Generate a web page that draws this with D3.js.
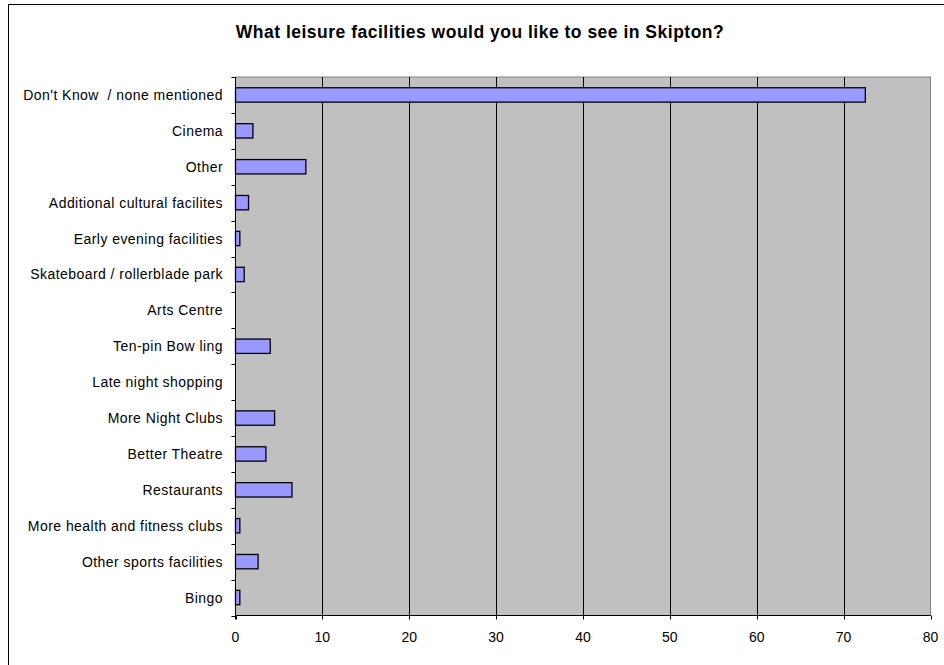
<!DOCTYPE html>
<html><head><meta charset="utf-8">
<script src="https://cdn.jsdelivr.net/npm/d3@7"></script>
<style>body{margin:0;background:#fff}svg{display:block}text{font-family:"Liberation Sans",Arial,sans-serif}</style>
</head><body>
<svg id="c" width="944" height="665"></svg>
<script>
const title = "What leisure facilities would you like to see in Skipton?";
const categories = ["Don't Know  / none mentioned","Cinema","Other","Additional cultural facilites","Early evening facilities","Skateboard / rollerblade park","Arts Centre","Ten-pin Bow ling","Late night shopping","More Night Clubs","Better Theatre","Restaurants","More health and fitness clubs","Other sports facilities","Bingo"];
const values = [72.5,2.0,8.1,1.5,0.5,1.0,0,4.0,0,4.5,3.5,6.5,0.5,2.6,0.5];
const xTicks = [0,10,20,30,40,50,60,70,80];

const svg = d3.select("#c");
const L=235.5, R=930.5, T=77, B=615.5;
svg.append("rect").attr("x",8.5).attr("y",4.5).attr("width",960).attr("height",700).attr("fill","#fff").attr("stroke","#000");
svg.append("text").attr("x",480).attr("y",37.5).attr("text-anchor","middle").attr("font-weight","bold").attr("font-size",17.5).attr("letter-spacing",0.5).attr("xml:space","preserve").text(title);

const x = d3.scaleLinear().domain([0,80]).range([L,R]);
const y = d3.scaleBand().domain(categories).range([T,B]).paddingInner(0.6).paddingOuter(0.3);
const yb = d3.scaleBand().domain(categories).range([T,B]);

svg.append("rect").attr("x",L).attr("y",T).attr("width",R-L).attr("height",B-T).attr("fill","#c0c0c0").attr("stroke","#808080");
svg.append("g").selectAll("line").data(xTicks.slice(1,-1)).join("line")
  .attr("x1",d=>Math.round(x(d))+0.5).attr("x2",d=>Math.round(x(d))+0.5).attr("y1",T).attr("y2",B).attr("stroke","#000");

svg.append("g").selectAll("rect").data(categories).join("rect")
  .attr("x",x(0)).attr("y",(d)=>y(d)).attr("height",y.bandwidth())
  .attr("width",(d,i)=>x(values[i])-x(0)).attr("fill","#9999ff").attr("stroke","#000").attr("stroke-width",1.3)
  .attr("display",(d,i)=>values[i]>0?null:"none");

// y axis
const ya = svg.append("g");
ya.append("line").attr("x1",L).attr("x2",L).attr("y1",T).attr("y2",B+4).attr("stroke","#000");
const bounds = categories.map(c=>yb(c)).concat([B]);
ya.selectAll("line.t").data(bounds).join("line").attr("class","t")
  .attr("x1",L-4).attr("x2",L).attr("y1",d=>Math.round(d)+0.5).attr("y2",d=>Math.round(d)+0.5).attr("stroke","#000");
ya.selectAll("text").data(categories).join("text")
  .attr("x",223).attr("y",d=>yb(d)+yb.bandwidth()/2+5).attr("text-anchor","end").attr("font-size",14).attr("letter-spacing",0.45).attr("xml:space","preserve").text(d=>d);

// x axis
const xa = svg.append("g");
xa.append("line").attr("x1",L).attr("x2",R).attr("y1",B).attr("y2",B).attr("stroke","#000");
xa.selectAll("line.t").data(xTicks).join("line").attr("class","t")
  .attr("x1",d=>Math.round(x(d))+0.5).attr("x2",d=>Math.round(x(d))+0.5).attr("y1",B).attr("y2",B+4).attr("stroke","#000");
xa.selectAll("text").data(xTicks).join("text")
  .attr("x",d=>x(d)).attr("y",642).attr("text-anchor","middle").attr("font-size",14).text(d=>d);
</script>
</body></html>
